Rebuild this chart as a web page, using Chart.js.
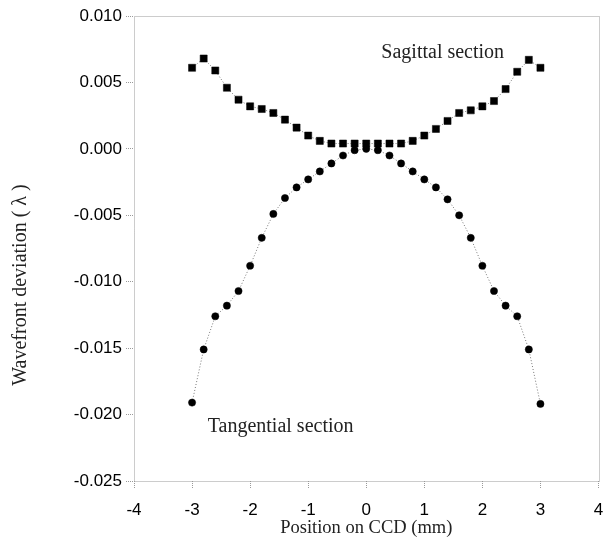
<!DOCTYPE html>
<html>
<head>
<meta charset="utf-8">
<script src="https://cdn.jsdelivr.net/npm/chart.js@4"></script>
<style>
  html, body { margin: 0; padding: 0; background: #fff; overflow: hidden; }
  canvas { display: block; }
</style>
</head>
<body>
<canvas id="wavefront-chart" width="604" height="543"></canvas>
<script>
// positions on CCD (mm)
const positions = [-3, -2.8, -2.6, -2.4, -2.2, -2, -1.8, -1.6, -1.4, -1.2, -1, -0.8, -0.6, -0.4, -0.2,
  0, 0.2, 0.4, 0.6, 0.8, 1, 1.2, 1.4, 1.6, 1.8, 2, 2.2, 2.4, 2.6, 2.8, 3];

// wavefront deviation (lambda)
const sagittal = [0.0061, 0.0068, 0.0059, 0.0046, 0.0037, 0.0032, 0.0030, 0.0027, 0.0022, 0.0016, 0.0010,
  0.0006, 0.0004, 0.0004, 0.0004, 0.0004, 0.0004, 0.0004, 0.0004, 0.0006, 0.0010, 0.0015, 0.0021,
  0.0027, 0.0029, 0.0032, 0.0036, 0.0045, 0.0058, 0.0067, 0.0061];

const tangential = [-0.0191, -0.0151, -0.0126, -0.0118, -0.0107, -0.0088, -0.0067, -0.0049, -0.0037,
  -0.0029, -0.0023, -0.0017, -0.0011, -0.0005, -0.0001, 0.0000, -0.0001, -0.0005, -0.0011, -0.0017,
  -0.0023, -0.0029, -0.0038, -0.0050, -0.0067, -0.0088, -0.0107, -0.0118, -0.0126, -0.0151, -0.0192];

const xTicks = [-4, -3, -2, -1, 0, 1, 2, 3, 4];
const yTicks = [0.010, 0.005, 0.000, -0.005, -0.010, -0.015, -0.020, -0.025];

// text labels inside the plot, anchored in data units (left edge, middle)
const notes = [
  { text: "Sagittal section", x: 0.26, y: 0.0072 },
  { text: "Tangential section", x: -2.73, y: -0.0209 },
];

const serif = '"Liberation Serif", "DejaVu Serif", serif';
const sans = '"Liberation Sans", Arial, sans-serif';

const toPoints = (vals) => positions.map((x, i) => ({ x: x, y: vals[i] }));

// dotted frame, y title and the two section labels
const extras = {
  id: "extras",
  afterDraw(chart) {
    const { ctx, chartArea: a, scales } = chart;
    ctx.save();
    ctx.strokeStyle = "#999";
    ctx.lineWidth = 1;
    ctx.setLineDash([1, 1]);
    ctx.strokeRect(Math.round(a.left) + 0.5, Math.round(a.top) + 0.5,
      Math.round(a.right - a.left), Math.round(a.bottom - a.top));
    ctx.setLineDash([]);

    ctx.fillStyle = "#222";
    ctx.font = "20px " + serif;
    ctx.textBaseline = "middle";
    ctx.textAlign = "left";
    notes.forEach((n) => {
      ctx.fillText(n.text, scales.x.getPixelForValue(n.x), scales.y.getPixelForValue(n.y));
    });

    ctx.translate(21, 285);
    ctx.rotate(-Math.PI / 2);
    ctx.textAlign = "center";
    ctx.fillText("Wavefront deviation ( \u03bb )", 0, 0);
    ctx.restore();
  },
};

new Chart(document.getElementById("wavefront-chart"), {
  type: "scatter",
  data: {
    datasets: [
      {
        label: "Sagittal section",
        data: toPoints(sagittal),
        showLine: true,
        borderColor: "#777",
        borderWidth: 1,
        borderDash: [1, 2],
        pointStyle: "rect",
        pointRadius: 5,
        pointBackgroundColor: "#000",
        pointBorderColor: "#000",
        pointBorderWidth: 0.5,
      },
      {
        label: "Tangential section",
        data: toPoints(tangential),
        showLine: true,
        borderColor: "#777",
        borderWidth: 1,
        borderDash: [1, 2],
        pointStyle: "circle",
        pointRadius: 3.6,
        pointBackgroundColor: "#000",
        pointBorderColor: "#000",
        pointBorderWidth: 0.5,
      },
    ],
  },
  options: {
    responsive: false,
    animation: false,
    layout: { padding: { top: 16, right: 5, left: 0, bottom: 0 } },
    plugins: {
      legend: { display: false },
      tooltip: { enabled: false },
    },
    scales: {
      x: {
        type: "linear",
        min: -4,
        max: 4,
        afterFit: (scale) => { scale.height = 62; scale.paddingRight = 0; scale.paddingLeft = 0; },
        afterBuildTicks: (scale) => { scale.ticks = xTicks.map((v) => ({ value: v })); },
        border: { display: false },
        grid: {
          drawOnChartArea: false,
          tickLength: 7,
          color: "#999",
          tickBorderDash: [1, 1],
        },
        ticks: {
          color: "#000",
          padding: 12,
          font: { family: sans, size: 17 },
          callback: (v) => String(v),
        },
        title: {
          display: true,
          text: "Position on CCD (mm)",
          color: "#222",
          font: { family: serif, size: 18.5 },
          padding: { top: 0, bottom: 4 },
        },
      },
      y: {
        type: "linear",
        min: -0.025,
        max: 0.01,
        afterFit: (scale) => { scale.width = 134; scale.paddingTop = 0; scale.paddingBottom = 0; },
        afterBuildTicks: (scale) => { scale.ticks = yTicks.map((v) => ({ value: v })); },
        border: { display: false },
        grid: {
          drawOnChartArea: false,
          tickLength: 8,
          color: "#999",
          tickBorderDash: [1, 1],
        },
        ticks: {
          color: "#000",
          padding: 4,
          font: { family: sans, size: 17 },
          callback: (v) => (Math.abs(v) < 1e-9 ? "0.000" : v.toFixed(3)),
        },
      },
    },
  },
  plugins: [extras],
});
</script>
</body>
</html>
